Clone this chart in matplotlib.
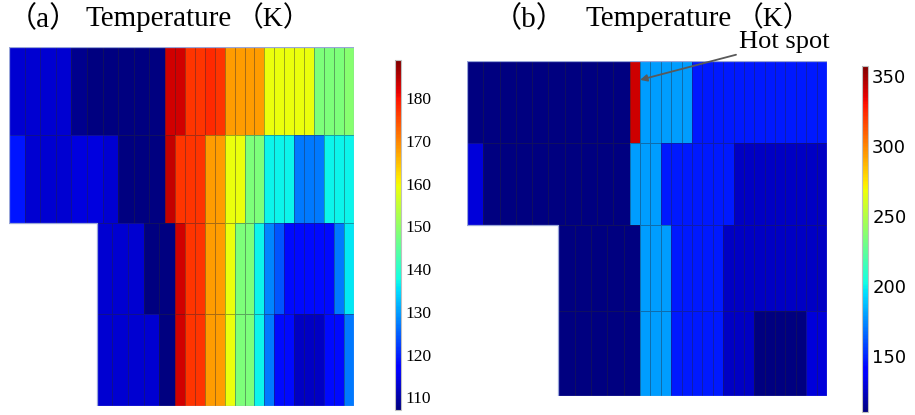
import numpy as np
import matplotlib
matplotlib.use("Agg")
import matplotlib.pyplot as plt

# cell temperatures (K), left blocks are the coarse mesh, right blocks the fine mesh
# panel (a)
a_upper_left = [[113, 113, 113, 113, 108, 107, 107, 107, 107, 107],
                [119, 113, 113, 113, 114, 114, 113, 107, 107, 107]]
a_upper_right = [[183, 183, 177, 177, 178, 177, 168, 168, 168, 168,
                  159, 159, 159, 159, 159, 148, 148, 148, 149],
                 [184, 177, 177, 177, 168, 168, 159, 159, 148, 148,
                  137, 137, 137, 127, 127, 127, 137, 137, 137]]
a_lower_left = [[113, 113, 113, 107, 107],
                [113, 113, 113, 113, 107]]
a_lower_right = [[183, 177, 177, 168, 168, 159, 148, 148, 137,
                  128, 124, 118, 118, 118, 118, 118, 127, 136],
                 [183, 177, 177, 168, 168, 159, 148, 148, 137,
                  127, 118, 118, 112, 112, 112, 118, 118, 127]]

# panel (b)
b_upper_left = [[110, 110, 110, 110, 110, 110, 110, 110, 110, 110],
                [130, 110, 110, 110, 110, 110, 110, 110, 110, 110]]
b_upper_right = [[340, 179, 179, 179, 179, 179, 147, 147, 147, 147,
                  147, 147, 147, 147, 147, 147, 147, 147, 147],
                 [179, 179, 179, 147, 147, 147, 147, 147, 147, 147,
                  125, 125, 125, 125, 125, 125, 125, 125, 125]]
b_lower_left = [[110, 110, 110, 110, 110],
                [110, 110, 110, 110, 110]]
b_lower_right = [[179, 179, 179, 147, 147, 147, 147, 147,
                  125, 125, 125, 125, 125, 125, 125, 125, 125, 125],
                 [179, 179, 179, 147, 147, 147, 147, 147,
                  125, 125, 125, 110, 110, 110, 110, 110, 130, 130]]

a_range = (107, 189)
a_ticks = [110, 120, 130, 140, 150, 160, 170, 180]
b_range = (110, 357)
b_ticks = [150, 200, 250, 300, 350]

# mesh layout (model units: width 1, four rows)
split_up = 0.452
cut = 0.254
fine_w = (1 - split_up) / 19
split_low = split_up + fine_w
row_edges = [0, 1, 2, 3.04, 4.08]

serif = ['Liberation Serif', 'Noto Sans CJK SC']
edge = (0.15, 0.15, 0.2, 0.4)

fig = plt.figure(figsize=(9.15, 4.15), dpi=100)
W, H = 915, 415


def px_axes(x0, y0, x1, y1):
    return fig.add_axes([x0 / W, 1 - y1 / H, (x1 - x0) / W, (y1 - y0) / H])


def draw_panel(ax, ul, ur, ll, lr, vrange):
    kw = dict(cmap='jet', vmin=vrange[0], vmax=vrange[1],
              edgecolors=edge, linewidth=0.5)
    ye_up = row_edges[0:3]
    ye_low = row_edges[2:5]
    m = ax.pcolormesh(np.linspace(0, split_up, 11), ye_up, np.array(ul), **kw)
    ax.pcolormesh(np.linspace(split_up, 1, 20), ye_up, np.array(ur), **kw)
    ax.pcolormesh(np.linspace(cut, split_low, 6), ye_low, np.array(ll), **kw)
    ax.pcolormesh(np.linspace(split_low, 1, 19), ye_low, np.array(lr), **kw)
    # outline of the L-shaped domain
    ox = [0, 1, 1, cut, cut, 0, 0]
    oy = [0, 0, row_edges[4], row_edges[4], row_edges[2], row_edges[2], 0]
    ax.plot(ox, oy, color=(0.6, 0.65, 0.85), lw=0.9)
    ax.set_xlim(0, 1)
    ax.set_ylim(row_edges[4], 0)
    ax.axis('off')
    return m


ax_a = px_axes(9, 47, 354, 406)
mesh_a = draw_panel(ax_a, a_upper_left, a_upper_right, a_lower_left, a_lower_right, a_range)
ax_b = px_axes(467, 61, 827, 396)
mesh_b = draw_panel(ax_b, b_upper_left, b_upper_right, b_lower_left, b_lower_right, b_range)

# colorbars
cax_a = px_axes(395, 60, 401, 410)
cb_a = fig.colorbar(mesh_a, cax=cax_a, ticks=a_ticks)
cb_a.outline.set_edgecolor('0.75')
cax_a.tick_params(length=0, pad=3)
for t in cax_a.get_yticklabels():
    t.set_fontfamily(serif)
    t.set_fontsize(12.5)

cax_b = px_axes(862, 66, 868, 412)
cb_b = fig.colorbar(mesh_b, cax=cax_b, ticks=b_ticks)
cb_b.outline.set_edgecolor('0.75')
cax_b.tick_params(length=0, pad=3)
for t in cax_b.get_yticklabels():
    t.set_fontfamily('DejaVu Sans')
    t.set_fontsize(13)

# titles
ty = 1 - 19 / H
fig.text(8 / W, ty, '（a）', family=serif, fontsize=21, va='center', ha='left')
fig.text(85 / W, ty, 'Temperature', family=serif, fontsize=21, va='center', ha='left')
fig.text(236 / W, ty, '（K）', family=serif, fontsize=20, va='center', ha='left')
fig.text(493 / W, ty, '（b）', family=serif, fontsize=21, va='center', ha='left')
fig.text(585 / W, ty, 'Temperature', family=serif, fontsize=21, va='center', ha='left')
fig.text(736 / W, ty, '（K）', family=serif, fontsize=20, va='center', ha='left')

# hot spot marker
hot_x = split_up + fine_w
ax_b.annotate('Hot spot', xy=(hot_x, 0.23), xytext=(0.755, -0.23),
              fontsize=19, family=serif, va='center', ha='left',
              annotation_clip=False,
              arrowprops=dict(arrowstyle='-|>', color='0.35', lw=1.3,
                              shrinkA=0, shrinkB=0, mutation_scale=10))

fig.savefig('out.png', dpi=100)
